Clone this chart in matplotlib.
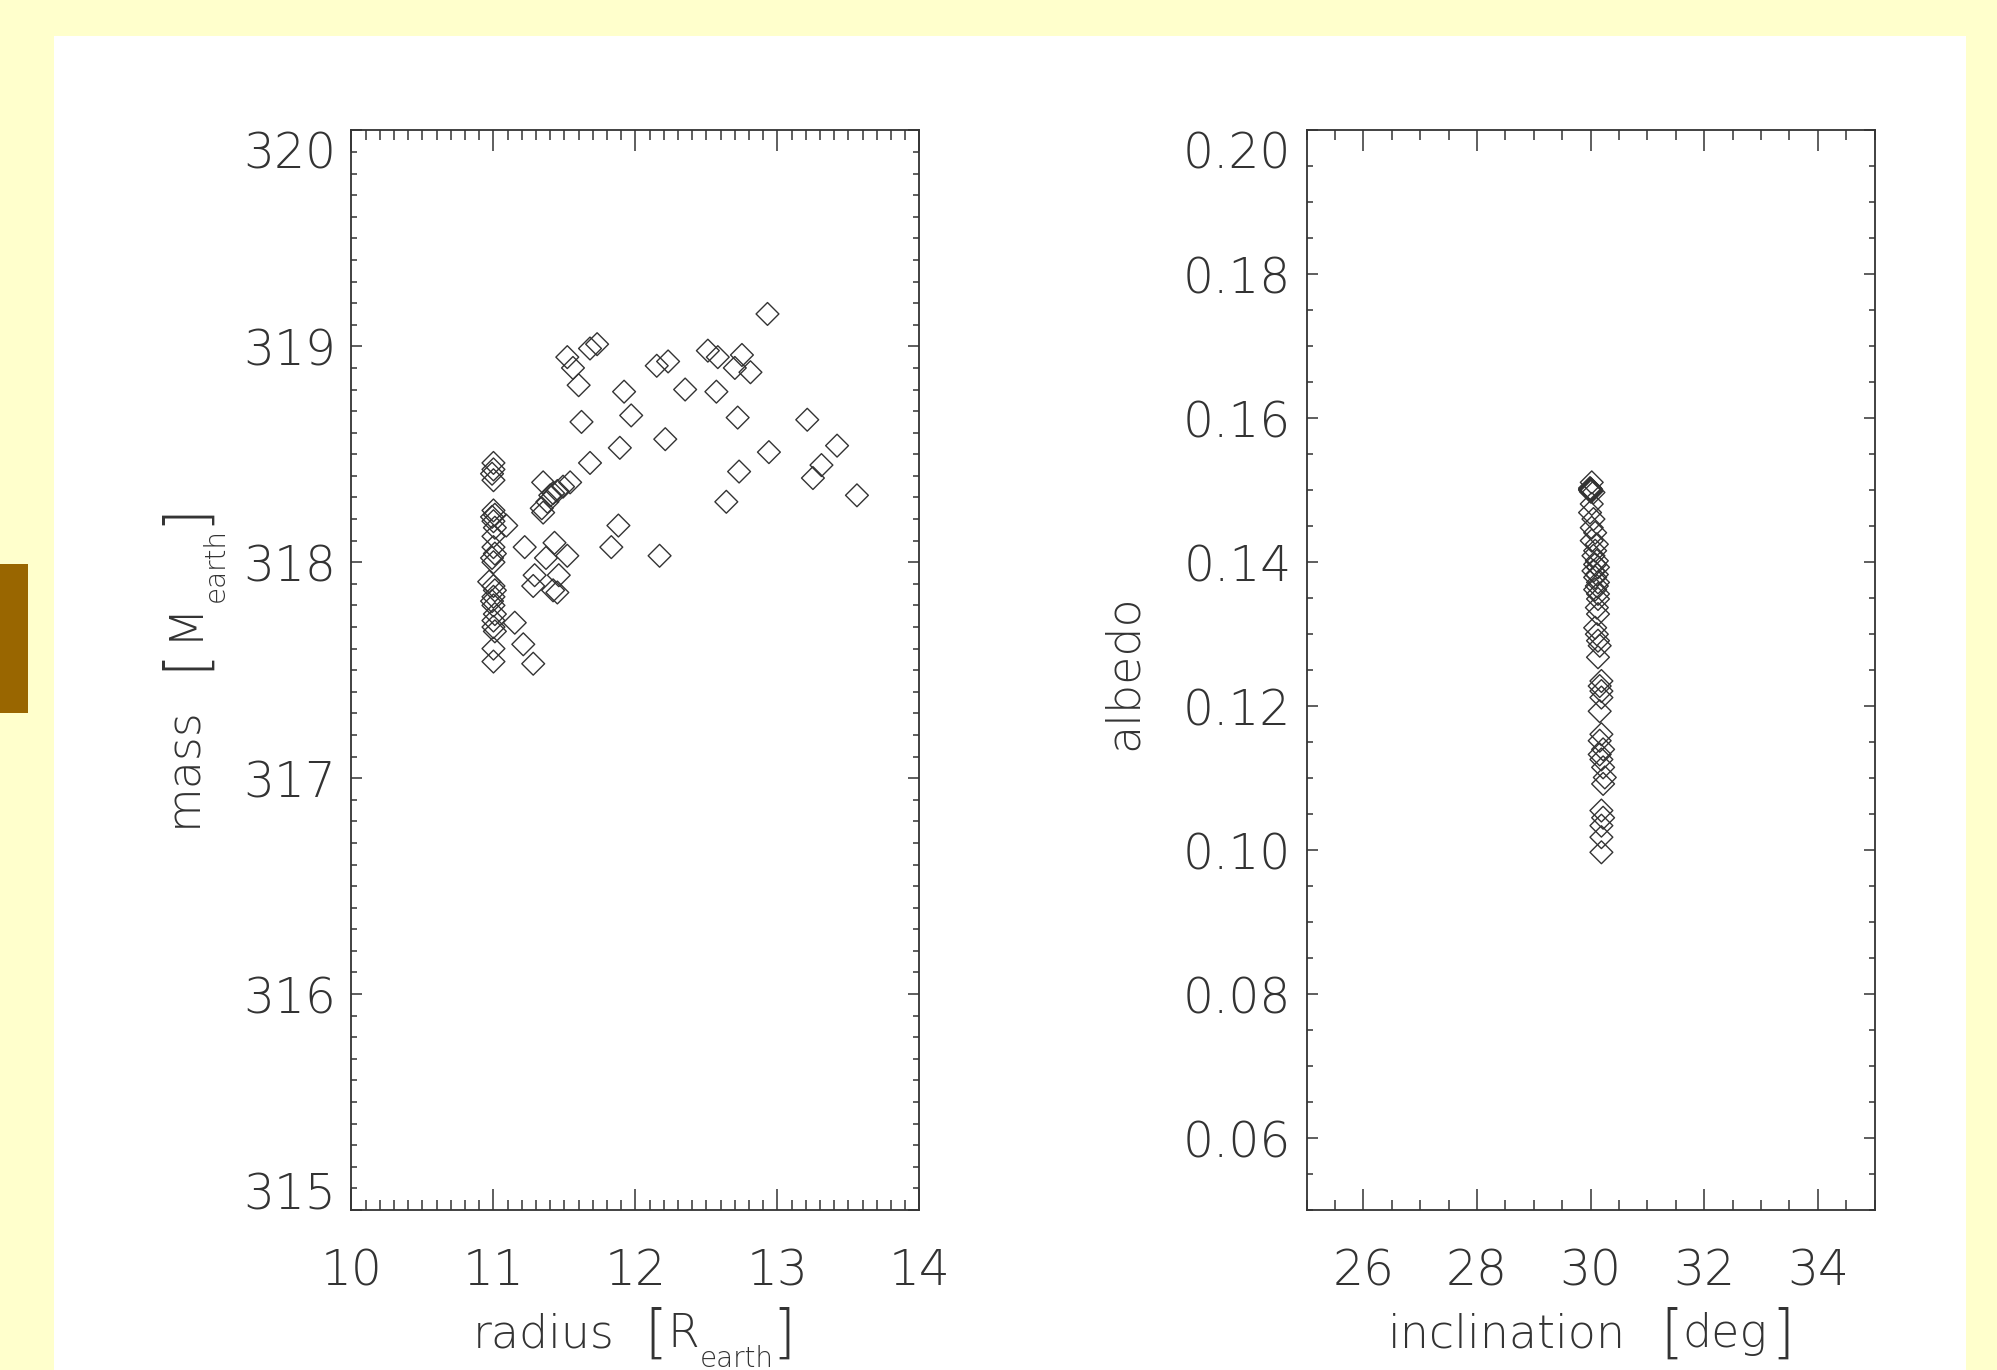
import matplotlib.pyplot as plt
from matplotlib.patches import Rectangle
from matplotlib.ticker import MultipleLocator, FixedLocator
from matplotlib.transforms import offset_copy

# values
radius = [12.93, 11.52, 11.56, 11.68, 11.73, 12.15, 12.23, 12.51, 12.58, 12.75,
          12.70, 12.81, 11.60, 11.92, 12.35, 12.57, 11.62, 11.97, 12.72, 13.21,
          12.21, 11.89, 11.68, 13.42, 12.94, 12.73, 13.31, 13.25, 13.56, 12.64,
          11.35, 11.54, 11.49, 11.45, 11.40, 11.38, 11.34, 11.35, 11.42,
          11.88, 11.83, 12.17, 11.22, 11.43, 11.52, 11.37, 11.46, 11.29, 11.28,
          11.42, 11.45, 11.15, 11.21, 11.28, 11.09,
          11.00, 11.00, 10.99, 11.00, 11.00, 11.01, 10.99, 11.00, 11.01, 11.00,
          11.00, 11.01, 10.99, 11.00, 10.97, 11.00, 11.01, 11.00, 10.99, 11.00,
          11.01, 11.00, 11.00, 11.01, 11.00, 11.00]
mass = [319.15, 318.95, 318.90, 318.99, 319.01, 318.91, 318.93, 318.98, 318.95, 318.96,
        318.90, 318.88, 318.82, 318.79, 318.80, 318.79, 318.65, 318.68, 318.67, 318.66,
        318.57, 318.53, 318.46, 318.54, 318.51, 318.42, 318.45, 318.39, 318.31, 318.28,
        318.37, 318.37, 318.35, 318.33, 318.31, 318.28, 318.25, 318.23, 318.32,
        318.17, 318.07, 318.03, 318.07, 318.09, 318.03, 318.02, 317.94, 317.94, 317.89,
        317.87, 317.86, 317.72, 317.62, 317.53, 318.17,
        318.46, 318.43, 318.41, 318.38, 318.24, 318.22, 318.21, 318.19, 318.16, 318.12,
        318.07, 318.04, 318.02, 318.00, 317.91, 317.89, 317.87, 317.84, 317.82, 317.80,
        317.76, 317.73, 317.70, 317.68, 317.60, 317.54]

inclination = [30.02, 29.99, 30.00, 30.01, 30.00, 29.995, 30.005, 29.99, 30.01,
               30.05, 30.02, 29.99, 30.05, 30.02,
               30.08, 30.02, 30.11, 30.08, 30.05, 30.11, 30.08, 30.13, 30.05, 30.11,
               30.08, 30.13, 30.11, 30.08, 30.13, 30.13, 30.11, 30.13, 30.08, 30.11,
               30.13, 30.16, 30.13, 30.19, 30.16, 30.19, 30.19, 30.16, 30.19, 30.16,
               30.22, 30.16, 30.19, 30.22, 30.25, 30.22, 30.19, 30.22, 30.19, 30.19,
               30.19]
albedo = [0.1511, 0.1501, 0.1500, 0.1499, 0.1502, 0.1500, 0.1498, 0.1503, 0.1501,
          0.1497, 0.1481, 0.1469, 0.1460, 0.1448,
          0.1441, 0.1430, 0.1425, 0.1416, 0.1409, 0.1402, 0.1397, 0.1393, 0.1388, 0.1383,
          0.1379, 0.1372, 0.1367, 0.1362, 0.1356, 0.1349, 0.1337, 0.1328, 0.1309, 0.1300,
          0.1291, 0.1284, 0.1268, 0.1235, 0.1228, 0.1221, 0.1212, 0.1193, 0.1161, 0.1152,
          0.1140, 0.1133, 0.1126, 0.1115, 0.1101, 0.1092, 0.1055, 0.1045, 0.1034, 0.1018,
          0.0997]

mass_ticks = [315, 316, 317, 318, 319, 320]
albedo_ticks = [0.06, 0.08, 0.10, 0.12, 0.14, 0.16, 0.18, 0.20]
incl_ticks = [26, 28, 30, 32, 34]

ink = '#333333'
plt.rcParams['font.family'] = ['DejaVu Sans']
plt.rcParams['font.weight'] = 200

fig = plt.figure(figsize=(19.97, 13.70), dpi=100, facecolor='#FFFFCC')
fig.add_artist(Rectangle((0.027, 0), 0.9575, 0.9737, transform=fig.transFigure,
                         facecolor='white', edgecolor='none', zorder=-10))
fig.add_artist(Rectangle((0, 0.4796), 0.014, 0.1088, transform=fig.transFigure,
                         facecolor='#996600', edgecolor='none', zorder=-10))

ax1 = fig.add_axes([0.176, 0.1168, 0.2844, 0.788])
ax2 = fig.add_axes([0.6543, 0.1168, 0.2844, 0.788])

for ax, x, y in [(ax1, radius, mass), (ax2, inclination, albedo)]:
    ax.scatter(x, y, marker='D', s=135, facecolors='none', edgecolors=ink, linewidths=1.0)
    for sp in ax.spines.values():
        sp.set_color(ink)
        sp.set_linewidth(1.3)
    ax.tick_params(axis='both', which='both', direction='in', top=True, right=True,
                   colors=ink, labelsize=35, width=1.1)
    ax.tick_params(axis='x', which='major', length=15, pad=27)
    ax.tick_params(axis='x', which='minor', length=7.5)
    ax.tick_params(axis='y', which='major', length=8, pad=11)
    ax.tick_params(axis='y', which='minor', length=4.3)

ax1.set_xlim(10, 14)
ax1.set_ylim(315, 320)
ax1.xaxis.set_major_locator(MultipleLocator(1))
ax1.xaxis.set_minor_locator(MultipleLocator(0.1))
ax1.yaxis.set_major_locator(FixedLocator(mass_ticks))
ax1.yaxis.set_minor_locator(MultipleLocator(0.1))

ax2.set_xlim(25, 35)
ax2.set_ylim(0.05, 0.20)
ax2.xaxis.set_major_locator(FixedLocator(incl_ticks))
ax2.xaxis.set_minor_locator(MultipleLocator(0.5))
ax2.yaxis.set_major_locator(FixedLocator(albedo_ticks))
ax2.yaxis.set_minor_locator(MultipleLocator(0.005))
ax2.yaxis.set_major_formatter(plt.FormatStrFormatter('%.2f'))

# end labels sit inside the axis range, as in the original
ticks = ax1.yaxis.get_major_ticks()
ticks[0].label1.set_va('baseline')
ticks[-1].label1.set_va('top')
ax2.yaxis.get_major_ticks()[-1].label1.set_va('top')


# axis titles are built from pieces so the subscript can drop below the bracket
def piece_label(ax, x, y, pieces, rotation=0):
    rend = fig.canvas.get_renderer()
    pos = 0
    for s, size, dy, gap in pieces:
        if rotation == 0:
            ox, oy = pos, dy
        else:
            ox, oy = -dy, pos
        tr = offset_copy(ax.transAxes, fig=fig, x=ox, y=oy, units='points')
        t = ax.text(x, y, s, fontsize=size, color=ink, transform=tr, rotation=rotation,
                    rotation_mode='anchor', ha='left', va='baseline')
        bb = t.get_window_extent(rend)
        pos += (bb.width if rotation == 0 else bb.height) * 72 / fig.dpi + gap


L, B, S = 33, 42, 20
piece_label(ax1, 0.214, -0.127, [('radius', L, 0, 21), ('[', B, -3, 0), ('R', L, 0, 0.6),
                                 ('earth', S, -14, -1), (']', B, -3, 0)])
piece_label(ax1, -0.273, 0.355, [('mass', L, 0, 26), ('[', B, -3, 5), ('M', L, 0, -1),
                                 ('earth', S, -20, 2), (']', B, -3, 0)], rotation=90)
piece_label(ax2, 0.143, -0.127, [('inclination', L, 0, 25), ('[', B, -3, -1), ('deg', L, 0, 3),
                                 (']', B, -3, 0)])
piece_label(ax2, -0.299, 0.426, [('albedo', L, 0, 0)], rotation=90)

fig.savefig('out.png', dpi=100, facecolor=fig.get_facecolor())
